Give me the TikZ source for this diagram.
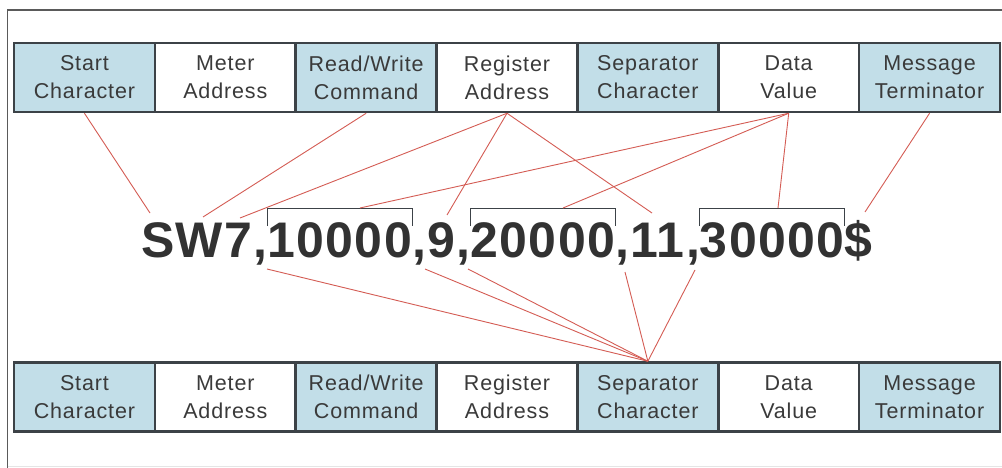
\documentclass[tikz,border=0pt]{standalone}
\usepackage{fontspec}
\setmainfont{Liberation Sans}
\newfontfamily\boxfont[LetterSpace=4]{Liberation Sans}
\newfontfamily\bigfont[LetterSpace=2.8]{Liberation Sans}
\definecolor{boxblue}{RGB}{194,222,232}
\definecolor{boxline}{RGB}{60,66,71}
\definecolor{txt}{RGB}{58,58,58}
\definecolor{bigtxt}{RGB}{50,50,50}
\definecolor{redline}{RGB}{212,92,84}
\definecolor{framecol}{RGB}{90,90,90}
\tikzset{
  field/.style={draw=boxline, line width=2.5pt, minimum width=140.86pt, minimum height=69pt,
     inner sep=0pt, align=center, text=txt, font=\boxfont\fontsize{21.5}{28}\selectfont},
  bluefield/.style={field, fill=boxblue},
  whitefield/.style={field, fill=white},
  seg/.style={inner sep=0pt, outer sep=0pt, text=bigtxt, font=\bigfont\bfseries\fontsize{50}{50}\selectfont},
  link/.style={draw=redline, line width=0.9pt},
  bracket/.style={draw=boxline, line width=1pt}
}
\begin{document}
\begin{tikzpicture}[x=1pt,y=-1pt]
\useasboundingbox (0,0) rectangle (1002,468);
\fill[white] (0,0) rectangle (1002,468);
% frame
\draw[framecol, line width=1.6pt] (1002,10) -- (7.5,10) -- (7.5,468);
\draw[black!10, line width=1pt] (7.5,466) -- (1002,466);

% top row
\node[bluefield]  (t1) at (84.43,77.5)  {Start\\Character};
\node[whitefield] (t2) at (225.29,77.5) {Meter\\Address};
\node[bluefield]  (t3) at (366.14,77.5) {Read/Write\\Command};
\node[whitefield] (t4) at (507.00,77.5) {Register\\Address};
\node[bluefield]  (t5) at (647.86,77.5) {Separator\\Character};
\node[whitefield] (t6) at (788.71,77.5) {Data\\Value};
\node[bluefield]  (t7) at (929.57,77.5) {Message\\Terminator};

% bottom row
\node[bluefield]  (b1) at (84.43,397)  {Start\\Character};
\node[whitefield] (b2) at (225.29,397) {Meter\\Address};
\node[bluefield]  (b3) at (366.14,397) {Read/Write\\Command};
\node[whitefield] (b4) at (507.00,397) {Register\\Address};
\node[bluefield]  (b5) at (647.86,397) {Separator\\Character};
\node[whitefield] (b6) at (788.71,397) {Data\\Value};
\node[bluefield]  (b7) at (929.57,397) {Message\\Terminator};

% message text
\node[seg, anchor=base west] (s1) at (141,257) {SW7,};
\node[seg, anchor=base west] (n1) at (s1.base east) {10000};
\node[seg, anchor=base west] (s2) at (n1.base east) {,9,};
\node[seg, anchor=base west] (n2) at (s2.base east) {20000};
\node[seg, anchor=base west] (s3) at (n2.base east) {,11,};
\node[seg, anchor=base west] (n3) at (s3.base east) {30000};
\node[seg, anchor=base west] (s4) at (n3.base east) {\$};

% brackets
\foreach \n in {n1,n2,n3}{
  \draw[bracket] ([yshift=-4pt]\n.north west) -- ([yshift=14pt]\n.north west)
     -- ([yshift=14pt]\n.north east) -- ([yshift=-4pt]\n.north east);
}

% end points
\coordinate (pS)  at (150,213);
\coordinate (pW)  at (203,217);
\coordinate (pC1) at (240,218);
\coordinate (p9)  at (447,215);
\coordinate (p11) at (652,213);
\coordinate (pB1) at (360,208);
\coordinate (pB2) at (563,208);
\coordinate (pB3) at (778,208);
\coordinate (pD)  at (865,212);
\coordinate (c1) at (267,269);
\coordinate (c2) at (425,269);
\coordinate (c3) at (468,269);
\coordinate (c4) at (625,272);
\coordinate (c5) at (695,270);

% top links
\draw[link] (t1.south) -- (pS);
\draw[link] (t3.south) -- (pW);
\draw[link] (t4.south) -- (pC1);
\draw[link] (t4.south) -- (p9);
\draw[link] (t4.south) -- (p11);
\draw[link] (t6.south) -- (pB1);
\draw[link] (t6.south) -- (pB2);
\draw[link] (t6.south) -- (pB3);
\draw[link] (t7.south) -- (pD);

% bottom links
\foreach \c in {c1,c2,c3,c4,c5}{
  \draw[link] (\c) -- (b5.north);
}
\end{tikzpicture}
\end{document}
